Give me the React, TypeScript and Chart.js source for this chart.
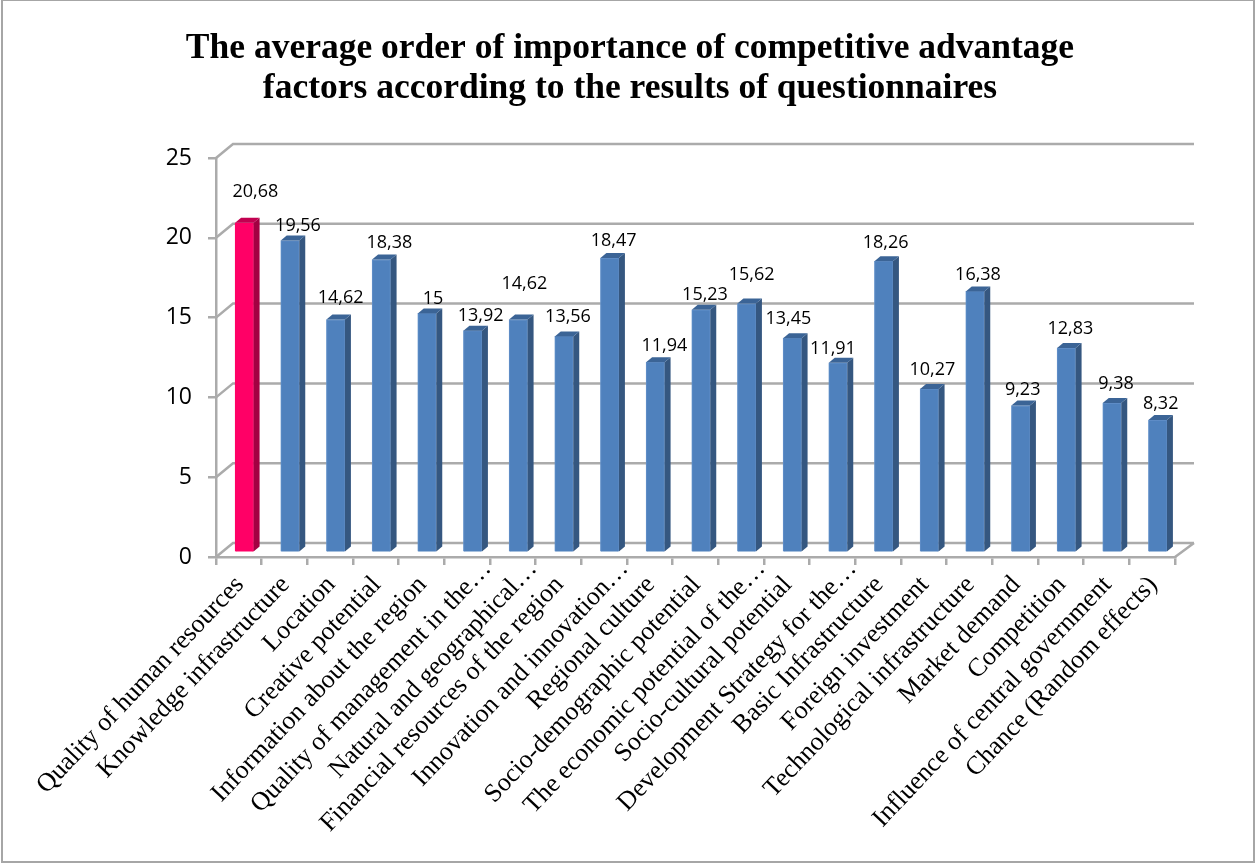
import React, { useEffect, useRef } from "react";
import { Chart, registerables } from "chart.js";

Chart.register(...registerables);

const TITLE_LINES = [
  "The average order of importance of competitive advantage",
  "factors according to the results of questionnaires",
];

const CATEGORIES = [
  "Quality of human resources",
  "Knowledge infrastructure",
  "Location",
  "Creative potential",
  "Information about the region",
  "Quality of management in the…",
  "Natural and geographical…",
  "Financial resources of the region",
  "Innovation and innovation…",
  "Regional culture",
  "Socio-demographic potential",
  "The economic potential of the…",
  "Socio-cultural potential",
  "Development Strategy for the…",
  "Basic Infrastructure",
  "Foreign investment",
  "Technological infrastructure",
  "Market demand",
  "Competition",
  "Influence of central government",
  "Chance (Random effects)",
];

const VALUES = [
  20.68, 19.56, 14.62, 18.38, 15, 13.92, 14.62, 13.56, 18.47, 11.94, 15.23,
  15.62, 13.45, 11.91, 18.26, 10.27, 16.38, 9.23, 12.83, 9.38, 8.32,
];

const Y_MIN = 0;
const Y_MAX = 25;
const Y_STEP = 5;

// Hand-placed data label nudges, as in the source chart (dx, dy from bar top)
const LABEL_NUDGE_X = [8, 5, 2, 5, 3, 5, 3, 1, 1, 6, 1, 2, -7, -8, -1, 0, 0, -1, 1, 1, 0];
const LABEL_NUDGE_Y = [-26, -10, -17, -12, -10, -10, -31, -15, -12, -11, -10, -24, -14, -9, -13, -14, -12, -11, -14, -14, -11];

const GRID = "#ABABAB";
const DEPTH_X = 17;
const DEPTH_Y = -14;
const BAR_DX = 5.5;
const BAR_DY = -4.2;
const SIDE_X = 6;
const SIDE_Y = -5;

const fmt = (v: number) => String(v).replace(".", ",");

const isFirst = (i: number) => i === 0;

const threeD = {
  id: "threeD",
  beforeDraw(chart: any) {
    const { ctx, width, height, scales } = chart;
    ctx.save();
    ctx.fillStyle = "#ffffff";
    ctx.fillRect(0, 0, width, height);
    ctx.strokeStyle = "#A6A6A6";
    ctx.lineWidth = 2;
    ctx.strokeRect(2, 0, width - 3, height - 1);
    ctx.fillStyle = "#000000";
    ctx.font = 'bold 35.5px "Liberation Serif"';
    ctx.textAlign = "center";
    ctx.textBaseline = "alphabetic";
    TITLE_LINES.forEach((line, i) => ctx.fillText(line, 630, 58 + i * 40));
    ctx.restore();
    // Truncated labels sit further along the axis in the source chart
    const items = scales.x.getLabelItems(chart.chartArea);
    items.forEach((item: any) => {
      if (String(item.label).endsWith("…") && !item.shifted) {
        item.options.translation = [item.options.translation[0] + 19, item.options.translation[1] - 16];
        item.shifted = true;
      }
    });
  },
  beforeDatasetsDraw(chart: any) {
    const { ctx, chartArea: a, scales } = chart;
    const y = scales.y;
    ctx.save();
    ctx.strokeStyle = GRID;
    ctx.lineWidth = 2.5;
    ctx.beginPath();
    for (let v = Y_MIN; v <= Y_MAX; v += Y_STEP) {
      const p = y.getPixelForValue(v);
      ctx.moveTo(a.left, p);
      ctx.lineTo(a.left + DEPTH_X, p + DEPTH_Y);
      ctx.lineTo(a.right + DEPTH_X + 2, p + DEPTH_Y);
    }
    ctx.moveTo(a.right, y.getPixelForValue(Y_MIN));
    ctx.lineTo(a.right + DEPTH_X + 2, y.getPixelForValue(Y_MIN) + DEPTH_Y);
    ctx.stroke();
    ctx.restore();
    ctx.save();
    ctx.translate(BAR_DX, BAR_DY);
  },
  afterDatasetsDraw(chart: any) {
    const { ctx } = chart;
    const meta = chart.getDatasetMeta(0);
    meta.data.forEach((el: any, i: number) => {
      const r = el.x + el.width / 2;
      const l = el.x - el.width / 2;
      ctx.fillStyle = isFirst(i) ? "#A30042" : "#355780";
      ctx.beginPath();
      ctx.moveTo(r, el.y);
      ctx.lineTo(r + SIDE_X, el.y + SIDE_Y);
      ctx.lineTo(r + SIDE_X, el.base + SIDE_Y);
      ctx.lineTo(r, el.base);
      ctx.closePath();
      ctx.fill();
      ctx.fillStyle = isFirst(i) ? "#C20050" : "#3B6496";
      ctx.beginPath();
      ctx.moveTo(l, el.y);
      ctx.lineTo(l + SIDE_X, el.y + SIDE_Y);
      ctx.lineTo(r + SIDE_X, el.y + SIDE_Y);
      ctx.lineTo(r, el.y);
      ctx.closePath();
      ctx.fill();
    });
    ctx.fillStyle = "#000000";
    ctx.font = '18px "Open Sans"';
    ctx.textAlign = "center";
    ctx.textBaseline = "middle";
    meta.data.forEach((el: any, i: number) => {
      ctx.fillText(
        fmt(VALUES[i]),
        el.x + SIDE_X / 2 + LABEL_NUDGE_X[i],
        el.y + SIDE_Y + LABEL_NUDGE_Y[i]
      );
    });
    ctx.restore();
  },
};

export default function App() {
  const ref = useRef<HTMLCanvasElement | null>(null);
  useEffect(() => {
    const chart = new Chart(ref.current as HTMLCanvasElement, {
      type: "bar",
      data: {
        labels: CATEGORIES,
        datasets: [
          {
            data: VALUES,
            backgroundColor: VALUES.map((_, i) => (isFirst(i) ? "#FF0066" : "#4F81BD")),
            borderColor: VALUES.map((_, i) => (isFirst(i) ? "#FF0066" : "#6391CA")),
            borderWidth: 1,
            barThickness: 18.5,
          },
        ],
      },
      options: {
        animation: false,
        responsive: false,
        devicePixelRatio: 1,
        layout: { padding: { left: 0, right: 80, top: 158, bottom: 0 } },
        plugins: {
          legend: { display: false },
          tooltip: { enabled: false },
          title: { display: false },
        },
        scales: {
          x: {
            offset: true,
            grid: {
              display: true,
              offset: true,
              drawOnChartArea: false,
              drawTicks: true,
              tickLength: 8,
              color: GRID,
              lineWidth: 2.5,
            },
            border: { display: true, color: GRID, width: 2.5 },
            ticks: {
              autoSkip: false,
              minRotation: 46.5,
              maxRotation: 46.5,
              padding: 5,
              labelOffset: 1,
              color: "#000000",
              font: { family: '"Liberation Serif"', size: 26 },
            },
            afterFit(scale: any) {
              scale.height = 306;
              scale.paddingLeft = 0;
              scale.paddingRight = 0;
            },
          },
          y: {
            min: Y_MIN,
            max: Y_MAX,
            grid: {
              display: true,
              drawOnChartArea: false,
              drawTicks: true,
              tickLength: 8,
              color: GRID,
              lineWidth: 2.5,
            },
            border: { display: true, color: GRID, width: 2.5 },
            ticks: {
              stepSize: Y_STEP,
              padding: 16,
              color: "#000000",
              font: { family: '"Open Sans"', size: 23 },
            },
            afterFit(scale: any) {
              scale.width = 216;
            },
          },
        },
      },
      plugins: [threeD],
    } as any);
    return () => chart.destroy();
  }, []);
  return (
    <div style={{ position: "absolute", left: 0, top: 0, width: 1255, height: 863 }}>
      <canvas ref={ref} width={1255} height={863} style={{ display: "block" }} />
    </div>
  );
}
